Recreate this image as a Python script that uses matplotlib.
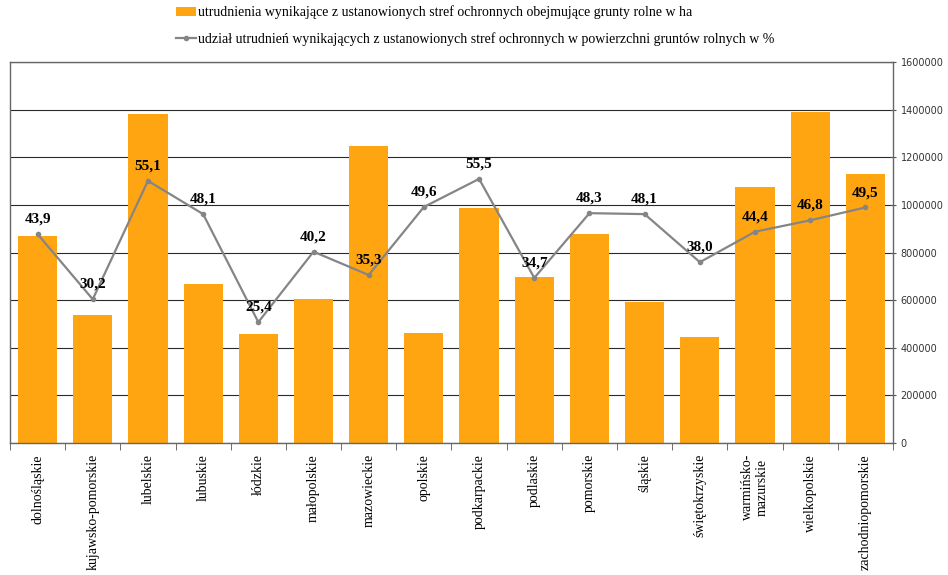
import numpy as np
import matplotlib.pyplot as plt
from matplotlib.ticker import FuncFormatter

regions = ['dolnośląskie', 'kujawsko-pomorskie', 'lubelskie', 'lubuskie', 'łódzkie',
           'małopolskie', 'mazowieckie', 'opolskie', 'podkarpackie', 'podlaskie',
           'pomorskie', 'śląskie', 'świętokrzyskie', 'warmińsko-\nmazurskie',
           'wielkopolskie', 'zachodniopomorskie']
area_ha = [870000, 537000, 1383000, 670000, 459000, 607000, 1250000, 463000,
           987000, 698000, 880000, 591000, 444000, 1074000, 1390000, 1131000]
share_pct = [43.9, 30.2, 55.1, 48.1, 25.4, 40.2, 35.3, 49.6,
             55.5, 34.7, 48.3, 48.1, 38.0, 44.4, 46.8, 49.5]

bar_label = 'utrudnienia wynikające z ustanowionych stref ochronnych obejmujące grunty rolne w ha'
line_label = 'udział utrudnień wynikających z ustanowionych stref ochronnych w powierzchni gruntów rolnych w %'

orange = '#FFA511'
grey = '#858585'

fig = plt.figure(figsize=(9.48, 5.75), dpi=100)
ax = fig.add_axes([0.0105, 0.2296, 0.9315, 0.662])
x = np.arange(len(regions))

# percentage line goes on a hidden 0-80 scale
ax2 = ax.twinx()

# bars on the right-hand scale
bars = ax.bar(x, area_ha, width=0.71, color=orange, zorder=2, label=bar_label)
ax.set_ylim(0, 1600000)
ax.set_xlim(-0.5, len(regions) - 0.5)
ax.yaxis.tick_right()
ax.yaxis.set_label_position('right')
ax.set_yticks(np.arange(0, 1600001, 200000))
ax.yaxis.set_major_formatter(FuncFormatter(lambda v, p: '%d' % v))
ax.tick_params(axis='y', labelsize=7, direction='inout', length=5, color='#555555',
               labelcolor='#333333', pad=3, left=False, labelleft=False,
               right=True, labelright=True)
ax.grid(axis='y', color='#2a2a2a', linewidth=0.8, zorder=1)
ax.set_axisbelow(True)

ax.set_xticks(x)
ax.set_xticklabels(regions, rotation=90, va='top', ha='center',
                   fontfamily='Liberation Serif', fontsize=10)
ax.tick_params(axis='x', length=0, pad=8)
ax.set_xticks(np.arange(-0.5, len(regions), 1), minor=True)
ax.tick_params(axis='x', which='minor', length=5, color='#555555', direction='out')

for s in ['left', 'right', 'top', 'bottom']:
    ax.spines[s].set_color('#666666')
    ax.spines[s].set_linewidth(1)

ax2.set_ylim(0, 80)
ax2.yaxis.set_visible(False)
for s in ax2.spines.values():
    s.set_visible(False)
line, = ax2.plot(x, share_pct, color=grey, linewidth=1.6, marker='o', markersize=3,
                 label=line_label, zorder=3)
for xi, v in zip(x, share_pct):
    ax2.annotate(('%.1f' % v).replace('.', ','), (xi, v), xytext=(0, 6),
                 textcoords='offset points', ha='center', va='bottom',
                 fontfamily='Liberation Serif', fontweight='bold', fontsize=11)

fig.legend(handles=[bars, line], loc='upper left', bbox_to_anchor=(0.172, 1.012),
           frameon=False, prop={'family': 'Liberation Serif', 'size': 10},
           handlelength=1.5, handletextpad=0.1, labelspacing=0.9)

fig.savefig('out.png', dpi=100)
